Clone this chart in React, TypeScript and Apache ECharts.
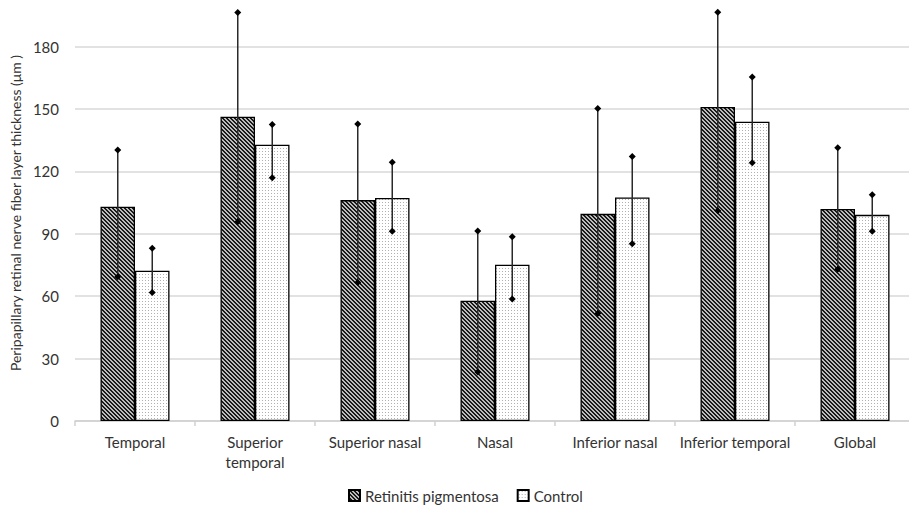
import React, { useEffect, useRef } from "react";
import * as echarts from "echarts";

const categories = [
  "Temporal",
  "Superior temporal",
  "Superior nasal",
  "Nasal",
  "Inferior nasal",
  "Inferior temporal",
  "Global",
];
const rpMean = [103.0, 146.3, 106.2, 57.8, 99.6, 151.0, 101.9];
const rpUpper = [130.3, 196.4, 142.8, 91.3, 150.3, 196.5, 131.4];
const rpLower = [69.3, 95.8, 66.6, 23.6, 51.7, 101.1, 73.0];
const ctrlMean = [72.2, 132.8, 107.2, 75.1, 107.5, 143.9, 99.1];
const ctrlUpper = [83.0, 142.5, 124.4, 88.6, 127.2, 165.4, 108.8];
const ctrlLower = [61.8, 117.0, 91.2, 58.6, 85.2, 124.2, 91.2];
const seriesNames = ["Retinitis pigmentosa", "Control"];
const yMin = 0;
const yMax = 200;
const yInterval = 30;

const FONT = "Lato";
const TEXT = "#333333";
const CAT_GAP = 0.425;

function hatchTile() {
  const c = document.createElement("canvas");
  c.width = 4;
  c.height = 4;
  const ctx = c.getContext("2d")!;
  ctx.fillStyle = "#bcbcbc";
  ctx.fillRect(0, 0, 4, 4);
  ctx.fillStyle = "#1a1a1a";
  for (let y = 0; y < 4; y++) {
    for (let x = 0; x < 4; x++) {
      const m = (((x - y) % 4) + 4) % 4;
      if (m === 0 || m === 1) ctx.fillRect(x, y, 1, 1);
    }
  }
  return c;
}

function dotTile() {
  const c = document.createElement("canvas");
  c.width = 3;
  c.height = 3;
  const ctx = c.getContext("2d")!;
  ctx.fillStyle = "#ffffff";
  ctx.fillRect(0, 0, 3, 3);
  ctx.fillStyle = "#b0b0b0";
  ctx.fillRect(1, 1, 1, 1);
  return c;
}

function errRender(side: number) {
  return (_params: any, api: any) => {
    const idx = api.value(0);
    const lo = api.coord([idx, api.value(1)]);
    const hi = api.coord([idx, api.value(2)]);
    const band = api.size([1, 0])[0];
    const barW = (band * (1 - CAT_GAP)) / 2;
    const x = lo[0] + (side * barW) / 2;
    const d = 3.5;
    const diamond = (y: number) => ({
      type: "polygon",
      shape: { points: [[x, y - d], [x + d, y], [x, y + d], [x - d, y]] },
      style: { fill: "#000" },
    });
    return {
      type: "group",
      children: [
        {
          type: "line",
          shape: { x1: x, y1: hi[1], x2: x, y2: lo[1] },
          style: { stroke: "#2a2a2a", lineWidth: 1.5 },
        },
        diamond(hi[1]),
        diamond(lo[1]),
      ],
    };
  };
}

export default function App() {
  const ref = useRef<HTMLDivElement>(null);
  useEffect(() => {
    document.body.style.margin = "0";
    const chart = echarts.init(ref.current!, null, { renderer: "svg" });
    const hatch = hatchTile();
    const dots = dotTile();
    const rpErr = categories.map((_, i) => [i, rpLower[i], rpUpper[i]]);
    const ctrlErr = categories.map((_, i) => [i, ctrlLower[i], ctrlUpper[i]]);
    chart.setOption({
      animation: false,
      textStyle: { fontFamily: FONT },
      grid: {
        left: 75,
        width: 840,
        top: 5,
        bottom: 88,
        containLabel: false,
        outerBoundsMode: "none",
      },
      legend: {
        data: seriesNames,
        bottom: 6,
        left: 348,
        padding: 0,
        itemWidth: 11,
        itemHeight: 11,
        itemGap: 18,
        icon: "rect",
        textStyle: { fontFamily: FONT, fontSize: 15, color: TEXT },
      },
      xAxis: {
        type: "category",
        data: categories,
        axisLine: { lineStyle: { color: "#d0d0d0", width: 1.5 } },
        axisTick: { show: true, length: 5, lineStyle: { color: "#d0d0d0", width: 1.5 } },
        axisLabel: {
          fontFamily: FONT,
          fontSize: 15,
          color: TEXT,
          margin: 11,
          lineHeight: 20,
          interval: 0,
          formatter: (v: string) => (v === "Superior temporal" ? "Superior\ntemporal" : v),
        },
      },
      yAxis: {
        type: "value",
        min: yMin,
        max: yMax,
        interval: yInterval,
        name: "Peripapillary retinal nerve fiber layer thickness (μm )",
        nameLocation: "middle",
        nameGap: 53,
        nameTextStyle: { fontFamily: FONT, fontSize: 14, color: TEXT },
        axisLine: { show: false },
        axisTick: { show: false },
        axisLabel: { fontFamily: FONT, fontSize: 15, color: TEXT, margin: 16, showMaxLabel: false },
        splitLine: { showMaxLine: false, lineStyle: { color: "#d9d9d9", width: 1.5 } },
      },
      series: [
        {
          name: seriesNames[0],
          type: "bar",
          data: rpMean,
          barGap: "0%",
          barCategoryGap: CAT_GAP * 100 + "%",
          itemStyle: {
            color: { image: hatch, repeat: "repeat", imageWidth: 4, imageHeight: 4 },
            borderColor: "#000",
            borderWidth: 1.3,
          },
        },
        {
          name: seriesNames[1],
          type: "bar",
          data: ctrlMean,
          itemStyle: {
            color: { image: dots, repeat: "repeat", imageWidth: 3, imageHeight: 3 },
            borderColor: "#000",
            borderWidth: 1.3,
          },
        },
        {
          type: "custom",
          renderItem: errRender(-1),
          data: rpErr,
          encode: { x: 0, y: [1, 2] },
          z: 5,
        },
        {
          type: "custom",
          renderItem: errRender(1),
          data: ctrlErr,
          encode: { x: 0, y: [1, 2] },
          z: 5,
        },
      ],
    });
    return () => chart.dispose();
  }, []);
  return <div ref={ref} style={{ width: 909, height: 509 }} />;
}
